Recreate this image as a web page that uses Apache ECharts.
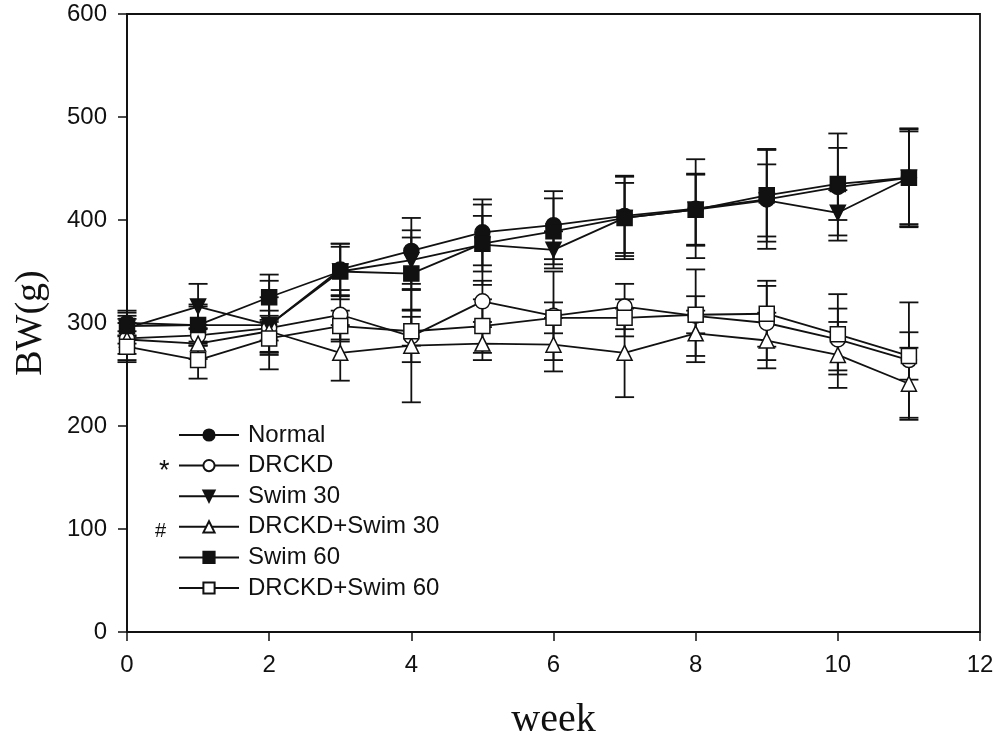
<!DOCTYPE html>
<html>
<head>
<meta charset="utf-8">
<script src="https://cdn.jsdelivr.net/npm/echarts@6/dist/echarts.min.js"></script>
<style>html,body{margin:0;padding:0;background:#fff;}#c{width:997px;height:746px;}</style>
</head>
<body>
<div id="c"></div>
<script>
var weeks = [0,1,2,3,4,5,6,7,8,9,10,11];
var normal      = [300,298,298,352,370,388,395,404,411,420,432,441];
var drckd       = [285,288,295,308,287,321,307,316,307,300,284,264];
var swim30      = [295,316,298,350,361,376,371,402,410,419,407,441];
var drckdSwim30 = [284,280,292,271,278,280,279,271,290,283,269,241];
var swim60      = [297,298,325,350,348,377,389,402,410,424,435,441];
var drckdSwim60 = [277,264,285,297,292,297,305,305,308,309,289,268];

var errNormal      = [12,18,27,25,32,32,33,39,48,48,52,48];
var errDrckd       = [15,10,12,24,25,20,43,22,45,36,30,56];
var errSwim30      = [15,22,43,24,29,39,18,40,34,35,22,45];
var errDrckdSwim30 = [20,15,20,27,55,16,26,43,22,27,32,35];
var errSwim60      = [10,20,22,27,35,27,32,34,35,45,35,47];
var errDrckdSwim60 = [15,18,16,15,14,26,15,18,18,32,39,23];

var names = ['Normal','DRCKD','Swim 30','DRCKD+Swim 30','Swim 60','DRCKD+Swim 60'];
var yTicks = [0,100,200,300,400,500,600];
var xTicks = [0,2,4,6,8,10,12];

var C = '#111';
var triDown = 'path://M0,0 L10,0 L5,9 Z';
var triUp = 'path://M5,0 L10,9 L0,9 Z';
var seriesDefs = [
  {name:names[0], data:normal, err:errNormal, symbol:'circle', fill:C},
  {name:names[1], data:drckd, err:errDrckd, symbol:'circle', fill:'#fff'},
  {name:names[2], data:swim30, err:errSwim30, symbol:triDown, fill:C},
  {name:names[3], data:drckdSwim30, err:errDrckdSwim30, symbol:triUp, fill:'#fff'},
  {name:names[4], data:swim60, err:errSwim60, symbol:'rect', fill:C},
  {name:names[5], data:drckdSwim60, err:errDrckdSwim60, symbol:'rect', fill:'#fff'}
];

var series = [];
seriesDefs.forEach(function(s){
  var ebData = weeks.map(function(w,i){ return [w, s.data[i]-s.err[i], s.data[i]+s.err[i]]; });
  series.push({
    type:'custom',
    name:s.name+'_err',
    silent:true,
    z:1,
    data: ebData,
    renderItem:function(params, api){
      var x = api.value(0);
      var lo = api.coord([x, api.value(1)]);
      var hi = api.coord([x, api.value(2)]);
      var hw = 9.5;
      var st = {stroke:C, lineWidth:1.8};
      return {type:'group', children:[
        {type:'line', shape:{x1:lo[0],y1:lo[1],x2:hi[0],y2:hi[1]}, style:st},
        {type:'line', shape:{x1:lo[0]-hw,y1:lo[1],x2:lo[0]+hw,y2:lo[1]}, style:st},
        {type:'line', shape:{x1:hi[0]-hw,y1:hi[1],x2:hi[0]+hw,y2:hi[1]}, style:st}
      ]};
    }
  });
});
seriesDefs.forEach(function(s){
  series.push({
    type:'line',
    name:s.name,
    z:3,
    data: weeks.map(function(w,i){ return [w, s.data[i]]; }),
    symbol:s.symbol,
    symbolSize:15,
    showAllSymbol:true,
    lineStyle:{color:C, width:1.8},
    itemStyle:{color:s.fill, borderColor:C, borderWidth:1.5},
    emphasis:{disabled:true},
    animation:false
  });
});

var chart = echarts.init(document.getElementById('c'));
chart.setOption({
  animation:false,
  backgroundColor:'#fff',
  grid:{left:127, right:17, top:14, bottom:114, show:true, borderColor:C, borderWidth:1.8, backgroundColor:'transparent'},
  xAxis:{
    type:'value', min:0, max:12, interval:2,
    axisLine:{show:true, onZero:false, lineStyle:{color:C, width:1.8}},
    axisTick:{show:true, length:9, lineStyle:{color:C, width:1.5}},
    axisLabel:{color:'#111', fontFamily:'Liberation Sans', fontSize:24, margin:21,
      formatter:function(v){ return xTicks.indexOf(v)>=0 ? String(v) : ''; }},
    splitLine:{show:false},
    name:'week', nameLocation:'middle', nameGap:68,
    nameTextStyle:{fontFamily:'Liberation Serif', fontSize:40, color:'#111'}
  },
  yAxis:{
    type:'value', min:0, max:600, interval:100,
    axisLine:{show:true, lineStyle:{color:C, width:1.8}},
    axisTick:{show:true, length:9, lineStyle:{color:C, width:1.5}},
    axisLabel:{color:'#111', fontFamily:'Liberation Sans', fontSize:24, margin:20,
      formatter:function(v){ return yTicks.indexOf(v)>=0 ? String(v) : ''; }},
    splitLine:{show:false},
    name:'BW(g)', nameLocation:'middle', nameGap:77, nameRotate:90,
    nameTextStyle:{fontFamily:'Liberation Serif', fontSize:38, color:'#111'}
  },
  legend:{
    data:names,
    orient:'vertical',
    left:173, top:418,
    itemWidth:60, itemHeight:14, itemGap:6.6,
    textStyle:{fontFamily:'Liberation Sans', fontSize:24, color:'#111', padding:[0,0,0,4]},
    selectedMode:false
  },
  graphic:[
    {type:'text', left:159, top:458, style:{text:'*', fontFamily:'Liberation Sans', fontSize:27, fill:'#111'}},
    {type:'text', left:155, top:521, style:{text:'#', fontFamily:'Liberation Sans', fontSize:20, fill:'#111'}}
  ],
  series:series
});
</script>
</body>
</html>
